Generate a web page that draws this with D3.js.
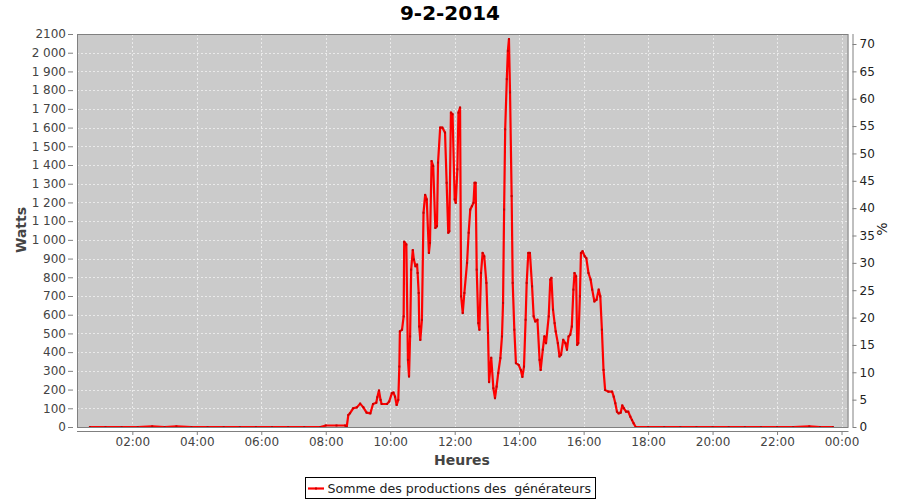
<!DOCTYPE html>
<html><head><meta charset="utf-8">
<script src="https://cdn.jsdelivr.net/npm/d3@7"></script>
<style>
html,body{margin:0;padding:0;background:#fff;}
svg{display:block;font-family:"DejaVu Sans",sans-serif;}
</style></head>
<body>
<svg id="c" width="900" height="500"></svg>
<script>
// ---- data ----
const title = "9-2-2014";
const seriesName = "Somme des productions des  générateurs";
const times = ["00:41","01:10","01:40","02:10","02:37","03:00","03:22","03:50","04:20","04:50","05:20","05:50","06:20","06:50","07:20","07:50","08:00","08:20","08:36",
"08:39","08:42","08:45","08:51","08:58","09:04","09:10","09:16","09:23","09:28","09:34","09:36","09:39","09:42","09:44","09:54","09:58",
"10:03","10:06","10:09","10:12","10:15","10:17","10:18","10:22","10:25","10:26","10:30","10:33","10:35","10:37","10:39","10:42","10:44","10:47","10:50","10:51","10:53","10:54","10:56","10:59",
"11:02","11:05","11:08","11:12","11:14","11:17","11:20","11:24","11:27","11:29","11:33","11:37","11:42","11:45","11:48","11:50","11:53","11:56",
"12:00","12:02","12:05","12:07","12:10","12:12","12:15","12:18","12:23","12:26","12:29","12:32","12:35","12:37","12:39","12:41","12:44","12:46","12:49","12:52","12:55","12:59",
"13:02","13:04","13:08","13:12","13:15","13:18","13:21","13:25","13:28","13:30","13:32","13:34","13:37","13:39","13:41","13:43","13:46","13:48","13:51","13:54","13:59",
"14:03","14:06","14:09","14:12","14:14","14:17","14:20","14:24","14:27","14:30","14:34","14:38","14:40","14:44","14:47","14:50","14:55","14:58",
"15:00","15:03","15:06","15:08","15:12","15:15","15:18","15:22","15:26","15:29","15:32","15:35","15:38","15:41","15:43","15:46","15:48","15:50","15:53","15:55","15:58",
"16:02","16:05","16:09","16:13","16:16","16:20","16:24","16:28","16:31","16:34","16:37","16:40","16:46","16:53","16:56","16:59",
"17:02","17:05","17:09","17:12","17:15","17:19","17:23","17:27","17:30","17:33","17:37",
"18:00","18:30","19:00","19:30","20:00","20:30","21:00","21:30","22:00","22:30","23:00","23:20","23:44"];
const watts = [0,0,0,0,3,0,3,0,0,0,0,0,0,0,0,0,8,8,8,
0,64,73,100,105,125,105,77,73,123,130,159,195,145,123,123,136,
180,184,162,118,145,323,511,520,591,990,975,359,270,484,841,945,895,859,868,823,716,537,466,573,
1145,1240,1216,930,984,1421,1395,1064,1073,1413,1600,1600,1573,1305,1038,1046,1680,1671,
1216,1198,1377,1680,1707,698,609,716,877,1038,1162,1180,1198,1305,1305,841,555,520,823,930,912,770,
502,240,370,207,154,216,288,368,484,663,1162,1591,1859,2010,2073,1788,1234,770,520,341,332,
305,268,323,573,770,930,930,752,591,564,573,359,305,413,484,448,591,788,
797,627,555,511,448,377,386,466,448,413,484,493,537,734,823,805,439,448,698,930,939,
912,902,823,788,734,671,680,734,698,520,305,198,189,189,162,127,
82,73,77,115,100,82,82,55,37,20,0,
0,0,0,0,0,0,0,0,0,0,3,0,0];
const xDomain = ["00:17","24:13"];
const xTickLabels = ["02:00","04:00","06:00","08:00","10:00","12:00","14:00","16:00","18:00","20:00","22:00","00:00"];
const wattTicks = [0,100,200,300,400,500,600,700,800,900,1000,1100,1200,1300,1400,1500,1600,1700,1800,1900,2000,2100];
const wattTickLabels = ["0","100","200","300","400","500","600","700","800","900","1 000","1 100","1 200","1 300","1 400","1 500","1 600","1 700","1 800","1 900","2 000","2100"];
const pctTicks = [0,5,10,15,20,25,30,35,40,45,50,55,60,65,70];
const yMax = 2100, pctMax = 71.83;

// ---- layout ----
const L = 77, R = 848.5, T = 34, B = 427;
const svg = d3.select("#c");
const base = new Date(2014,1,9,0,0,0);
const toDate = s => { const [h,m] = s.split(":").map(Number); return new Date(base.getTime() + (h*60+m)*60000); };
const data = times.map((t,i) => ({d: toDate(t), v: watts[i]}));

const x = d3.scaleTime().domain(xDomain.map(toDate)).range([L, R]);
const y = d3.scaleLinear().domain([0, yMax]).range([B, T]);
const yP = d3.scaleLinear().domain([0, pctMax]).range([B, T]);
const xTickDates = xTickLabels.map((s,i) => toDate(i === xTickLabels.length-1 ? "24:00" : s));

// plot background
svg.append("rect").attr("x", L).attr("y", T).attr("width", R-L).attr("height", B-T).attr("fill", "#cbcbcb");

// gridlines
const grid = svg.append("g").attr("stroke", "#ffffff").attr("stroke-width", 0.6).attr("stroke-dasharray", "2,2");
grid.selectAll("line.h").data(wattTicks).join("line")
  .attr("x1", L).attr("x2", R).attr("y1", d => Math.round(y(d))+0.5).attr("y2", d => Math.round(y(d))+0.5);
grid.selectAll("line.v").data(xTickDates).join("line")
  .attr("y1", T).attr("y2", B).attr("x1", d => Math.round(x(d))+0.5).attr("x2", d => Math.round(x(d))+0.5);

// clip
svg.append("clipPath").attr("id","clip").append("rect").attr("x", L).attr("y", T-2).attr("width", R-L).attr("height", B-T+2);

// line
const line = d3.line().x(d => x(d.d)).y(d => y(d.v));
const g = svg.append("g").attr("clip-path","url(#clip)");
g.append("path").datum(data).attr("d", line).attr("fill","none").attr("stroke","#ff0000").attr("stroke-width",2.2).attr("stroke-linejoin","round");
g.selectAll("rect.pt").data(data).join("rect").attr("x", d => x(d.d)-1).attr("y", d => y(d.v)-1).attr("width",2).attr("height",2).attr("fill","#c80000");

// plot border
svg.append("rect").attr("x", L+0.5).attr("y", T+0.5).attr("width", R-L-1).attr("height", B-T).attr("fill","none").attr("stroke","#808080").attr("stroke-width",1);

// left axis
const yAxis = d3.axisLeft(y).tickValues(wattTicks).tickFormat((d,i) => wattTickLabels[i]).tickSize(5).tickPadding(2);
const ga = svg.append("g").attr("transform", `translate(${L-4},0)`).call(yAxis);
ga.select(".domain").remove();
ga.selectAll(".tick line").attr("stroke","#808080");
ga.selectAll(".tick text").attr("fill","#444").style("font-size","12px").style("font-family","DejaVu Sans");

// bottom axis
const xAxis = d3.axisBottom(x).tickValues(xTickDates).tickFormat((d,i) => xTickLabels[i]).tickSize(4).tickPadding(2);
const gx = svg.append("g").attr("transform", `translate(0,${B+4})`).call(xAxis);
gx.select(".domain").attr("stroke","#808080").attr("d", `M${L},0.5H${R}`);
gx.selectAll(".tick line").attr("stroke","#808080");
gx.selectAll(".tick text").attr("fill","#444").style("font-size","12px").style("font-family","DejaVu Sans");

// right axis
const pAxis = d3.axisRight(yP).tickValues(pctTicks).tickFormat(d => String(d)).tickSize(4).tickPadding(3);
const gp = svg.append("g").attr("transform", `translate(${R+4},0)`).call(pAxis);
gp.select(".domain").attr("stroke","#808080").attr("d", `M0.5,${T}V${B}`);
gp.selectAll(".tick line").attr("stroke","#808080");
gp.selectAll(".tick text").attr("fill","#222").style("font-size","12px").style("font-family","DejaVu Sans");

// titles
svg.append("text").attr("x", 450).attr("y", 20).attr("text-anchor","middle").attr("font-weight","bold").attr("font-size",20).attr("fill","#000").text(title);
svg.append("text").attr("transform","translate(26,230) rotate(-90)").attr("text-anchor","middle").attr("font-weight","bold").attr("font-size",14).attr("fill","#444").text("Watts");
svg.append("text").attr("x", 462).attr("y", 465).attr("text-anchor","middle").attr("font-weight","bold").attr("font-size",14).attr("fill","#444").text("Heures");
svg.append("text").attr("transform","translate(887,229) rotate(-90)").attr("text-anchor","middle").attr("font-size",14).attr("fill","#222").text("%");

// legend
const lg = svg.append("g");
lg.append("rect").attr("x",305.5).attr("y",477.5).attr("width",290).attr("height",21).attr("fill","#fff").attr("stroke","#000").attr("stroke-width",1);
lg.append("line").attr("x1",308).attr("x2",324).attr("y1",488.5).attr("y2",488.5).attr("stroke","#ff0000").attr("stroke-width",2.2);
lg.append("rect").attr("x",315).attr("y",487.5).attr("width",2).attr("height",2).attr("fill","#c80000");
lg.append("text").attr("x",327.5).attr("y",493).attr("font-size",12.6).attr("fill","#222").style("white-space","pre").attr("xml:space","preserve").text(seriesName);
</script>
</body></html>
